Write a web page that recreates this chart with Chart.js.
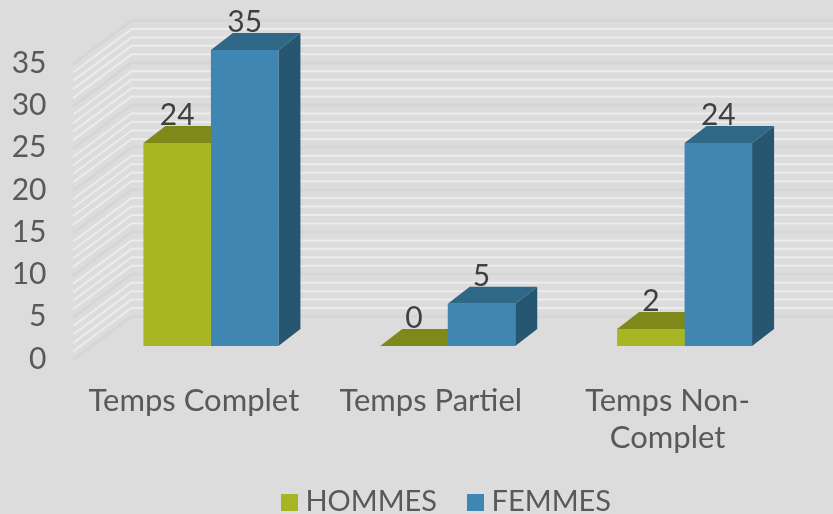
<!DOCTYPE html>
<html>
<head>
<meta charset="utf-8">
<script src="https://cdn.jsdelivr.net/npm/chart.js@4"></script>
<style>
  html, body { margin: 0; padding: 0; background: #dcdcdc; overflow: hidden; }
  #wrap { width: 833px; height: 514px; }
</style>
</head>
<body>
<div id="wrap"><canvas id="chart" width="833" height="514"></canvas></div>
<script>
// Chart data
let categories = ["Temps Complet", "Temps Partiel", ["Temps Non-", "Complet"]];
let hommes = [24, 0, 2];
let femmes = [35, 5, 24];

// Colors
let olive = "#a8b523";
let oliveTop = "#7f8919";
let oliveSide = "#636b14";
let blue = "#3f87b2";
let blueTop = "#2f6787";
let blueSide = "#275671";
let tickGrey = "#595959";
let valueGrey = "#404040";

// Depth of the fake 3D look, in pixels
let barDepthX = 22;
let barDepthY = 17;
let wallBackX = 131.5;
let wallFrontX = 73;
let wallBackDy = -29.5;
let wallFrontDy = 14;

let fontFamily = "Lato";

function face(ctx, color, pts) {
  ctx.fillStyle = color;
  ctx.beginPath();
  pts.forEach((p, i) => i ? ctx.lineTo(p[0], p[1]) : ctx.moveTo(p[0], p[1]));
  ctx.closePath();
  ctx.fill();
}

// Legend swatch as a small canvas, keeps the text close to the square
function swatch(color) {
  let c = document.createElement("canvas");
  c.width = 17;
  c.height = 17;
  let g = c.getContext("2d");
  g.fillStyle = color;
  g.fillRect(0, 0, 17, 17);
  return c;
}

// Back wall grid lines and the top/side faces of the bars
let depthPlugin = {
  id: 'depth',
  afterLayout(chart) {
    // legend sits right of centre in the original
    chart.legend.left += 48;
    chart.legend.right += 48;
    // two-line x label runs past the scale box, don't let it get clipped
    chart.scales.x.bottom = chart.height;
  },
  beforeDatasetsDraw(chart) {
    let ctx = chart.ctx;
    let y = chart.scales.y;
    ctx.save();
    y.ticks.forEach(t => {
      let py = y.getPixelForValue(t.value);
      let major = t.value % 5 === 0;
      ctx.strokeStyle = major ? "#d6d6d6" : "#ececec";
      ctx.lineWidth = major ? 3 : 2;
      ctx.beginPath();
      ctx.moveTo(wallFrontX, py + wallFrontDy);
      ctx.lineTo(wallBackX, py + wallBackDy);
      ctx.lineTo(chart.width, py + wallBackDy);
      ctx.stroke();
    });
    chart.data.datasets.forEach((ds, i) => {
      chart.getDatasetMeta(i).data.forEach(bar => {
        let l = bar.x - bar.width / 2;
        let r = bar.x + bar.width / 2;
        face(ctx, ds.sideColor, [[r, bar.y], [r + barDepthX, bar.y - barDepthY], [r + barDepthX, bar.base - barDepthY], [r, bar.base]]);
        face(ctx, ds.topColor, [[l, bar.y], [l + barDepthX, bar.y - barDepthY], [r + barDepthX, bar.y - barDepthY], [r, bar.y]]);
      });
    });
    ctx.restore();
  },
  afterDatasetsDraw(chart) {
    let ctx = chart.ctx;
    ctx.save();
    ctx.fillStyle = valueGrey;
    ctx.font = "30px " + fontFamily;
    ctx.textAlign = "center";
    ctx.textBaseline = "alphabetic";
    chart.data.datasets.forEach((ds, i) => {
      chart.getDatasetMeta(i).data.forEach((bar, j) => {
        ctx.fillText(ds.data[j], bar.x, bar.y - barDepthY - 1);
      });
    });
    ctx.restore();
  }
};

new Chart(document.getElementById("chart").getContext('2d'), {
  type: 'bar',
  plugins: [depthPlugin],
  data: {
    labels: categories,
    datasets: [
      { label: "HOMMES", data: hommes, backgroundColor: olive, topColor: oliveTop, sideColor: oliveSide },
      { label: "FEMMES", data: femmes, backgroundColor: blue, topColor: blueTop, sideColor: blueSide }
    ]
  },
  options: {
    responsive: false,
    animation: false,
    layout: { padding: { top: 50, right: 30, left: 0, bottom: -12.5 } },
    datasets: { bar: { barPercentage: 1, categoryPercentage: 0.57, borderWidth: 0 } },
    scales: {
      x: {
        grid: { display: false },
        border: { display: false },
        ticks: { color: tickGrey, font: { family: fontFamily, size: 31 }, padding: 28, labelOffset: -17, maxRotation: 0, autoSkip: false },
        afterFit(scale) { scale.height = 104.5; }
      },
      y: {
        min: 0,
        max: 35,
        grid: { display: false },
        border: { display: false },
        ticks: {
          stepSize: 1,
          autoSkip: false,
          color: tickGrey,
          font: { family: fontFamily, size: 30 },
          padding: 38,
          labelOffset: 13,
          callback: v => v % 5 === 0 ? v : ""
        },
        afterFit(scale) {
          scale.width = 92.5;
          // big tick padding would otherwise push the chart area down
          scale.paddingTop = 0;
          scale.paddingBottom = 0;
        }
      }
    },
    plugins: {
      tooltip: { enabled: false },
      legend: {
        position: 'bottom',
        labels: {
          color: tickGrey,
          font: { family: fontFamily, size: 29 },
          usePointStyle: true,
          boxWidth: 3,
          padding: 37,
          generateLabels(chart) {
            let items = Chart.defaults.plugins.legend.labels.generateLabels(chart);
            items.forEach(item => { item.pointStyle = swatch(item.fillStyle); });
            return items;
          }
        }
      }
    }
  }
});
</script>
</body>
</html>
